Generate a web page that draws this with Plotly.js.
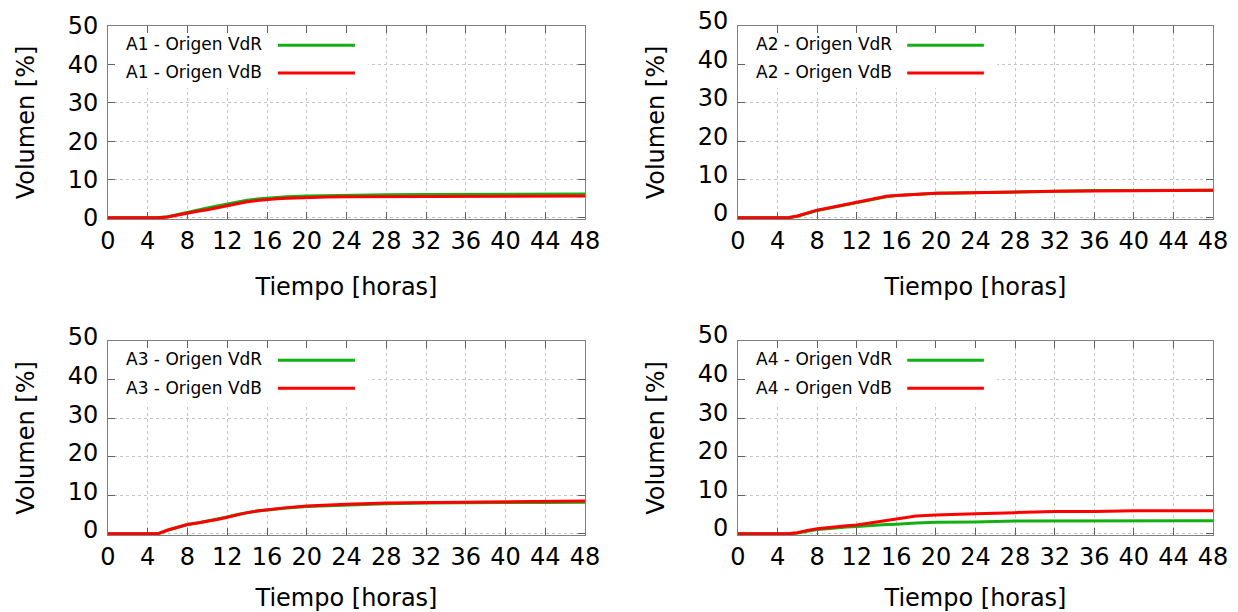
<!DOCTYPE html>
<html>
<head>
<meta charset="utf-8">
<script src="https://cdn.plot.ly/plotly-3.0.1.min.js"></script>
<style>html,body{margin:0;padding:0;background:#fff}#chart{width:1238px;height:612px}</style>
</head>
<body>
<div id="chart"></div>
<script>
// Time axis (hours)
const tiempo = [0, 5, 6, 7, 8, 9, 10, 11, 12, 13, 14, 15, 16, 17, 18, 20, 22, 24, 28, 32, 36, 40, 44, 48];

// Volumen [%] per series
const a1VdR = [0, 0, 0.3, 0.9, 1.6, 2.1, 2.6, 3.1, 3.6, 4.2, 4.6, 4.9, 5.1, 5.3, 5.5, 5.7, 5.8, 5.9, 6.0, 6.1, 6.1, 6.2, 6.2, 6.2];
const a1VdB = [0, 0, 0.2, 0.7, 1.3, 1.7, 2.1, 2.6, 3.1, 3.7, 4.2, 4.5, 4.8, 5.0, 5.1, 5.35, 5.45, 5.5, 5.55, 5.6, 5.65, 5.7, 5.7, 5.7];
const a2VdR = [0, 0, 0.4, 1.2, 1.9, 2.4, 2.9, 3.4, 4.0, 4.6, 5.1, 5.5, 5.8, 6.0, 6.2, 6.4, 6.5, 6.6, 6.8, 7.0, 7.1, 7.1, 7.1, 7.2];
const a2VdB = [0, 0, 0.5, 1.3, 2.0, 2.5, 3.0, 3.5, 4.1, 4.7, 5.2, 5.6, 5.8, 6.0, 6.2, 6.4, 6.5, 6.6, 6.8, 6.9, 7.0, 7.0, 7.1, 7.2];
const a3VdR = [0, 0, 0.9, 1.7, 2.4, 2.8, 3.3, 3.8, 4.4, 5.0, 5.5, 5.9, 6.2, 6.5, 6.7, 7.1, 7.3, 7.5, 7.8, 8.0, 8.1, 8.1, 8.1, 8.2];
const a3VdB = [0, 0, 1.0, 1.8, 2.4, 2.8, 3.2, 3.7, 4.3, 4.9, 5.5, 5.9, 6.2, 6.5, 6.8, 7.2, 7.5, 7.7, 8.0, 8.1, 8.2, 8.2, 8.3, 8.5];
const a4VdR = [0, 0, 0.2, 0.7, 1.1, 1.3, 1.6, 1.8, 1.9, 2.1, 2.3, 2.4, 2.5, 2.7, 2.8, 3.0, 3.0, 3.1, 3.3, 3.3, 3.4, 3.4, 3.4, 3.4];
const a4VdB = [0, 0, 0.3, 0.9, 1.3, 1.6, 1.9, 2.1, 2.3, 2.7, 3.1, 3.5, 3.9, 4.3, 4.6, 4.9, 5.1, 5.2, 5.5, 5.8, 5.8, 6.0, 6.0, 6.0];

const panelNames = ['A1', 'A2', 'A3', 'A4'];
const seriesVdR = [a1VdR, a2VdR, a3VdR, a4VdR];
const seriesVdB = [a1VdB, a2VdB, a3VdB, a4VdB];
const legendVdR = panelNames.map(n => n + ' - Origen VdR');
const legendVdB = panelNames.map(n => n + ' - Origen VdB');
const xTickVals = [0, 4, 8, 12, 16, 20, 24, 28, 32, 36, 40, 44, 48];
const yTickVals = [0, 10, 20, 30, 40, 50];

const GREEN = '#12b012';
const RED = '#ff0000';
const FONT = 'DejaVu Sans, Liberation Sans, sans-serif';

// panel geometry (paper fractions)
const W = 1238, H = 612;
const panels = [
  {xd: [108 / W, 585 / W], yd: [1 - 219 / H, 1 - 26 / H], yshift: 0},
  {xd: [738 / W, 1213 / W], yd: [1 - 219 / H, 1 - 26 / H], yshift: -5},
  {xd: [108 / W, 585 / W], yd: [1 - 535 / H, 1 - 341 / H], yshift: -4},
  {xd: [738 / W, 1213 / W], yd: [1 - 535 / H, 1 - 341 / H], yshift: -6}
];

const data = [];
const layout = {
  width: W, height: H,
  margin: {l: 0, r: 0, t: 0, b: 0},
  paper_bgcolor: '#fff', plot_bgcolor: '#fff',
  showlegend: false,
  font: {family: FONT, color: '#000'},
  shapes: [], annotations: []
};

panels.forEach((p, i) => {
  const k = i === 0 ? '' : String(i + 1);
  const xa = 'x' + k, ya = 'y' + k;
  data.push({x: tiempo, y: seriesVdR[i], xaxis: xa, yaxis: ya, mode: 'lines', name: legendVdR[i],
    line: {color: GREEN, width: 3}});
  data.push({x: tiempo, y: seriesVdB[i], xaxis: xa, yaxis: ya, mode: 'lines', name: legendVdB[i],
    line: {color: RED, width: 3}});

  const common = {
    showline: true, linecolor: '#808080', linewidth: 1, mirror: 'ticks',
    ticks: 'inside', ticklen: 7, tickcolor: '#606060', tickwidth: 1,
    showgrid: true, gridcolor: '#c4c4c4', griddash: 'dot', gridwidth: 1,
    zeroline: false, layer: 'below traces', fixedrange: true,
    tickfont: {family: FONT, size: 24, color: '#000'}
  };
  layout['xaxis' + k] = Object.assign({}, common, {
    domain: p.xd, anchor: ya, range: [0, 48], tickmode: 'array', tickvals: xTickVals,
    title: {text: 'Tiempo [horas]', font: {family: FONT, size: 24, color: '#000'}, standoff: 24}
  });
  layout['yaxis' + k] = Object.assign({}, common, {
    domain: p.yd, anchor: xa, range: [-0.3, 50], tickmode: 'array', tickvals: yTickVals,
    ticklabelshift: p.yshift, ticklabelstandoff: 4,
    title: {text: 'Volumen [%]', font: {family: FONT, size: 24, color: '#000'}, standoff: 26}
  });

  // key background (hides grid behind the key), in axis units
  layout.shapes.push({type: 'rect', xref: xa, yref: ya, x0: 0.2, x1: 26.2, y0: 33.8, y1: 49.8,
    fillcolor: '#fff', line: {width: 0}, layer: 'between'});
  // key samples
  layout.shapes.push({type: 'line', xref: xa, yref: ya, x0: 17.1, x1: 24.85, y0: 45.0, y1: 45.0,
    line: {color: GREEN, width: 3}, layer: 'above'});
  layout.shapes.push({type: 'line', xref: xa, yref: ya, x0: 17.1, x1: 24.85, y0: 37.75, y1: 37.75,
    line: {color: RED, width: 3}, layer: 'above'});
  layout.annotations.push({xref: xa + ' domain', yref: ya + ' domain', x: 0.034, y: 0.906, xanchor: 'left', yanchor: 'middle',
    text: legendVdR[i], showarrow: false, font: {family: FONT, size: 17, color: '#000'}});
  layout.annotations.push({xref: xa + ' domain', yref: ya + ' domain', x: 0.034, y: 0.760, xanchor: 'left', yanchor: 'middle',
    text: legendVdB[i], showarrow: false, font: {family: FONT, size: 17, color: '#000'}});
});

Plotly.newPlot('chart', data, layout, {staticPlot: true, displayModeBar: false});
</script>
</body>
</html>
